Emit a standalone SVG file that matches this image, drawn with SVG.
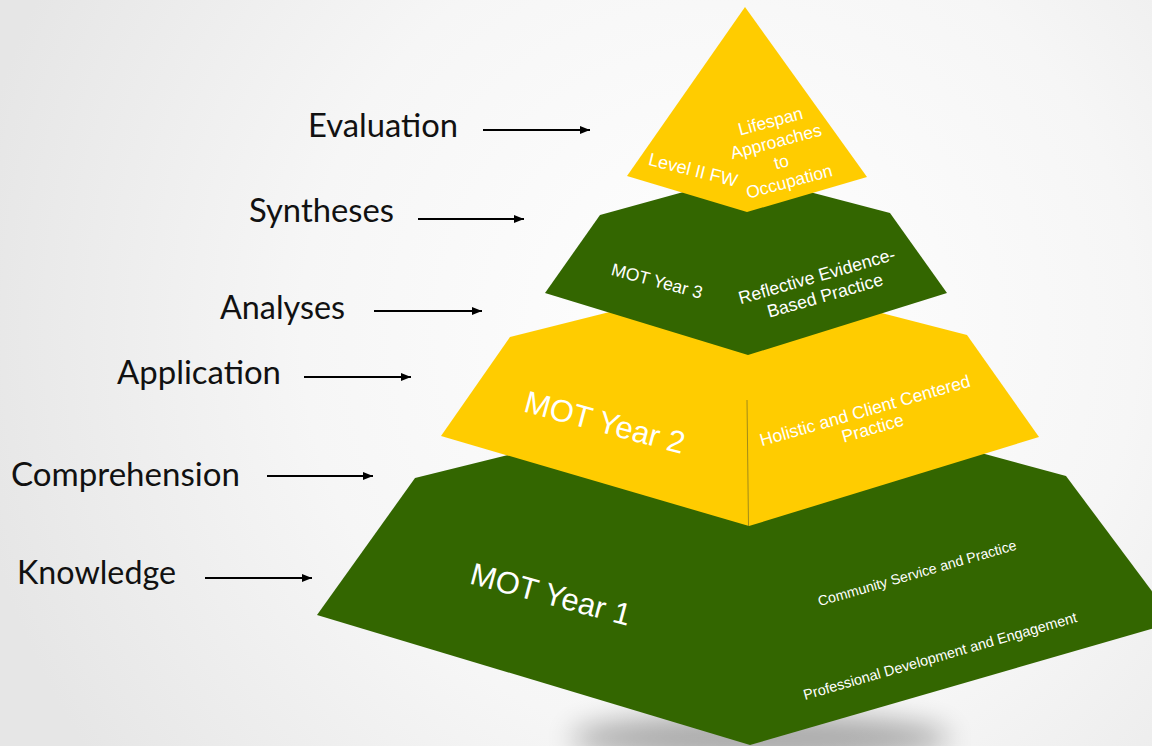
<svg xmlns="http://www.w3.org/2000/svg" width="1152" height="746" viewBox="0 0 1152 746">
  <defs>
    <radialGradient id="bg" cx="720" cy="330" r="760" gradientUnits="userSpaceOnUse">
      <stop offset="0" stop-color="#ffffff"/>
      <stop offset="0.55" stop-color="#f6f6f6"/>
      <stop offset="1" stop-color="#e6e6e6"/>
    </radialGradient>
    <filter id="blur" x="-50%" y="-100%" width="200%" height="300%">
      <feGaussianBlur stdDeviation="14"/>
    </filter>
    <marker id="arrow" markerWidth="10" markerHeight="8" refX="10" refY="4" orient="auto" markerUnits="userSpaceOnUse">
      <path d="M0,0 L10,4 L0,8 z" fill="#000"/>
    </marker>
    <style>
      .lbl { font-family: Lato, "Open Sans", "Liberation Sans", sans-serif; font-size: 32.5px; fill: #111; }
      .in { font-family: "Liberation Sans", Arial, sans-serif; fill: #ffffff; text-anchor: middle; }
      .green { fill: #336600; }
      .yellow { fill: #ffcc00; }
      .conn line { stroke: #000; stroke-width: 2; marker-end: url(#arrow); }
    </style>
  </defs>

  <rect width="1152" height="746" fill="url(#bg)"/>

  <!-- shadow under pyramid -->
  <ellipse cx="760" cy="738" rx="190" ry="24" fill="#000" opacity="0.3" filter="url(#blur)"/>

  <!-- Level labels -->
  <g id="labels">
    <text class="lbl" x="308" y="137" textLength="150" lengthAdjust="spacingAndGlyphs">Evaluation</text>
    <text class="lbl" x="249" y="222" textLength="145" lengthAdjust="spacingAndGlyphs">Syntheses</text>
    <text class="lbl" x="220" y="319" textLength="125" lengthAdjust="spacingAndGlyphs">Analyses</text>
    <text class="lbl" x="117" y="384" textLength="164" lengthAdjust="spacingAndGlyphs">Application</text>
    <text class="lbl" x="11" y="486" textLength="229" lengthAdjust="spacingAndGlyphs">Comprehension</text>
    <text class="lbl" x="17" y="584" textLength="159" lengthAdjust="spacingAndGlyphs">Knowledge</text>
  </g>

  <g id="connectors" class="conn">
    <line x1="483" y1="130" x2="590" y2="130"/>
    <line x1="418" y1="219" x2="524" y2="219"/>
    <line x1="374" y1="311" x2="482" y2="311"/>
    <line x1="304" y1="377" x2="411" y2="377"/>
    <line x1="267" y1="476" x2="373" y2="476"/>
    <line x1="205" y1="578" x2="312" y2="578"/>
  </g>

  <g id="year1">
    <polygon class="green" points="415,478 760,393 1066,476 1175,622 750,745 317,615"/>
    <text class="in" transform="translate(551,594) rotate(15)" y="11" font-size="31">MOT Year 1</text>
    <text class="in" transform="translate(917,573) rotate(-16)" y="5" font-size="14.2">Community Service and Practice</text>
    <text class="in" transform="translate(940,656) rotate(-16)" y="5" font-size="14.5">Professional Development and Engagement</text>
  </g>

  <g id="year2">
    <polygon class="yellow" points="510,337 745,278 967,335 1039,437 749,526 441,436"/>
    <line x1="747" y1="400" x2="748.5" y2="526" stroke="#8a7a20" stroke-width="1" opacity="0.8"/>
    <text class="in" transform="translate(605,422) rotate(15)" y="11" font-size="31">MOT Year 2</text>
    <text class="in" transform="translate(870,419) rotate(-16)" font-size="17.6">
      <tspan x="0" y="-3.5">Holistic and Client Centered</tspan>
      <tspan x="0" y="15.5">Practice</tspan>
    </text>
  </g>

  <g id="year3">
    <polygon class="green" points="600,215 745,175 890,213 947,293 748,355 545,293"/>
    <text class="in" transform="translate(657,281) rotate(15)" y="6" font-size="17.6">MOT Year 3</text>
    <text class="in" transform="translate(822,285) rotate(-16)" font-size="17.8">
      <tspan x="0" y="-4">Reflective Evidence-</tspan>
      <tspan x="0" y="17">Based Practice</tspan>
    </text>
  </g>

  <g id="top">
    <polygon class="yellow" points="745,7 867,177 747,212 627,176"/>
    <text class="in" transform="translate(693,170) rotate(14)" y="6" font-size="18">Level II FW</text>
    <text class="in" transform="translate(781,151) rotate(-15)" font-size="17.5">
      <tspan x="0" y="-25.5">Lifespan</tspan>
      <tspan x="0" y="-4.5">Approaches</tspan>
      <tspan x="0" y="16.5">to</tspan>
      <tspan x="0" y="37.5">Occupation</tspan>
    </text>
  </g>
</svg>
